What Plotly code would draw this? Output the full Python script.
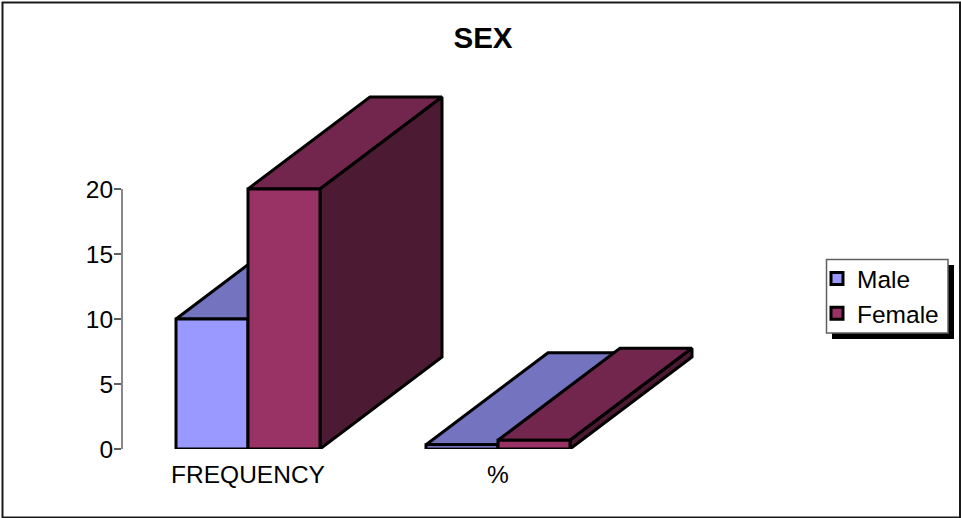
import plotly.graph_objects as go

categories = ["FREQUENCY", "%"]
male_values = [10, 0.33]
female_values = [20, 0.67]
y_ticks = [0, 5, 10, 15, 20]

W, H = 961, 518
L, R, T, B = 122, 822, 59, 449
X_RANGE = [(L - 248) / 250, (R - 248) / 250]
Y_RANGE = [0, 30]
BAR_W = 0.288
DX, DY = 0.488, 92 / 13
FONT = "Liberation Sans, Arial, sans-serif"
FS = 24.5
OUTLINE = 3
positions = list(range(len(categories)))


def px(x):
    return (x - L) / (R - L)


def py(y):
    return (B - y) / (B - T)


def faces(values, left_off, top_col, side_col, name):
    out = []
    for p, v in zip(positions, values):
        x0, x1 = p + left_off, p + left_off + BAR_W
        out.append(go.Scatter(
            x=[x0, x1, x1 + DX, x0 + DX, x0], y=[v, v, v + DY, v + DY, v],
            mode="lines", fill="toself", fillcolor=top_col,
            line=dict(color="black", width=OUTLINE), showlegend=False, hoverinfo="skip", name=name))
        out.append(go.Scatter(
            x=[x1, x1 + DX, x1 + DX, x1, x1], y=[0, DY, v + DY, v, 0],
            mode="lines", fill="toself", fillcolor=side_col,
            line=dict(color="black", width=OUTLINE), showlegend=False, hoverinfo="skip", name=name))
    return out


fig = go.Figure()
for tr in faces(male_values, -BAR_W, "#7373BF", "#4D4D80", "Male"):
    fig.add_trace(tr)
for tr in faces(female_values, 0, "#73264D", "#4D1A33", "Female"):
    fig.add_trace(tr)

fig.add_trace(go.Bar(x=positions, y=male_values, name="Male", width=BAR_W, offset=-BAR_W,
                     marker=dict(color="#9999FF", line=dict(color="black", width=OUTLINE)),
                     xaxis="x2", yaxis="y2"))
fig.add_trace(go.Bar(x=positions, y=female_values, name="Female", width=BAR_W, offset=0,
                     marker=dict(color="#993366", line=dict(color="black", width=OUTLINE)),
                     xaxis="x2", yaxis="y2"))

shapes = [
    dict(type="rect", xref="paper", yref="paper", x0=px(2.5), x1=px(960), y0=py(2.5), y1=py(517.5),
         line=dict(color="#1a1a1a", width=2), fillcolor="white", layer="below"),
    dict(type="rect", xref="paper", yref="paper", x0=px(832), x1=px(954), y0=py(265), y1=py(339),
         line=dict(width=0), fillcolor="black", layer="below"),
    dict(type="rect", xref="paper", yref="paper", x0=px(826.5), x1=px(948), y0=py(259.5), y1=py(333),
         line=dict(color="#606060", width=1.5), fillcolor="white", layer="below"),
    dict(type="line", xref="paper", yref="y", x0=0, x1=0, y0=y_ticks[0], y1=y_ticks[-1],
         line=dict(color="#606060", width=1.5)),
]

fig.update_layout(
    width=W, height=H, autosize=False,
    margin=dict(l=L, r=W - R, t=T, b=H - B, pad=0),
    paper_bgcolor="white", plot_bgcolor="rgba(0,0,0,0)",
    font=dict(family=FONT, size=FS, color="black"),
    title=dict(text="<b>SEX</b>", x=483 / W, xref="container", xanchor="center",
               y=1 - 38 / H, yref="container", yanchor="middle",
               font=dict(family=FONT, size=29.5, color="black")),
    xaxis=dict(range=X_RANGE, tickmode="array", tickvals=positions, ticktext=categories,
               showgrid=False, zeroline=False, showline=False, ticks="outside", ticklen=4,
               tickcolor="rgba(0,0,0,0)", tickfont=dict(size=FS)),
    yaxis=dict(range=Y_RANGE, tickmode="array", tickvals=y_ticks, showgrid=False, zeroline=False,
               showline=False, ticks="outside", ticklen=7, tickcolor="#606060", tickwidth=1.5,
               ticklabelstandoff=-4, tickfont=dict(size=FS)),
    xaxis2=dict(range=X_RANGE, overlaying="x", visible=False),
    yaxis2=dict(range=Y_RANGE, overlaying="y", visible=False),
    barmode="overlay",
    shapes=shapes,
    legend=dict(x=px(817), y=py(256), xanchor="left", yanchor="top",
                bgcolor="rgba(0,0,0,0)", borderwidth=0, font=dict(size=FS), traceorder="normal",
                itemclick=False, itemdoubleclick=False),
)

fig.write_html("out.html", config={"displayModeBar": False},
               post_script="document.body.style.margin='0';document.documentElement.style.overflow='hidden';")
